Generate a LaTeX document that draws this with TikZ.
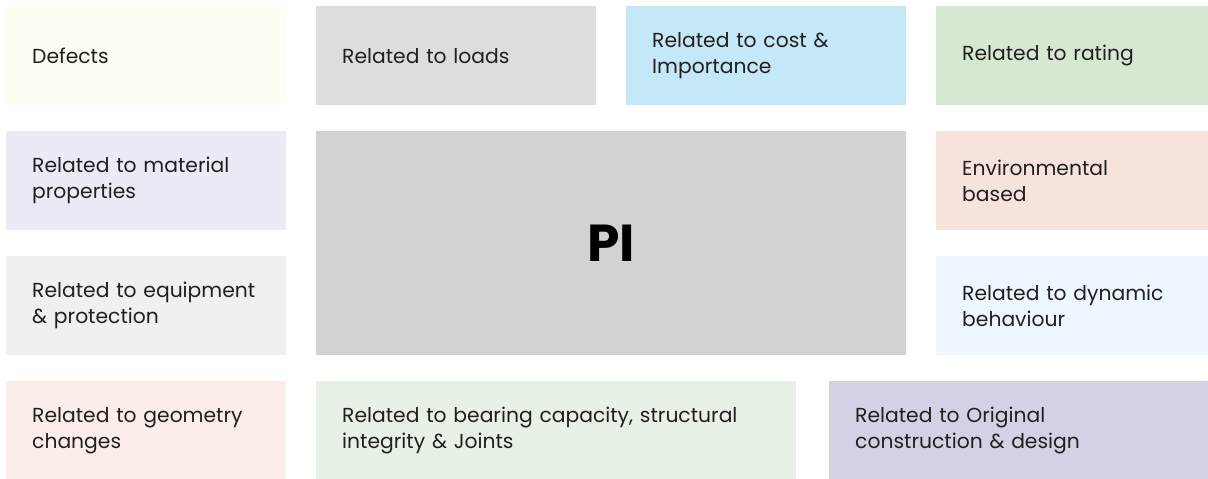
\documentclass[tikz,border=0pt]{standalone}
\usepackage{fontspec}
\setmainfont{Poppins}
\usepackage{tikz}

\definecolor{txt}{HTML}{231F20}
\definecolor{cDefects}{HTML}{FDFDF1}
\definecolor{cLoads}{HTML}{DCDDDE}
\definecolor{cCost}{HTML}{C5E8F8}
\definecolor{cRating}{HTML}{D7E8D2}
\definecolor{cMaterial}{HTML}{ECEBF5}
\definecolor{cPI}{HTML}{D1D2D4}
\definecolor{cEnv}{HTML}{F6E4DC}
\definecolor{cEquip}{HTML}{F0F0F0}
\definecolor{cDynamic}{HTML}{EEF7FD}
\definecolor{cGeometry}{HTML}{FBEEEA}
\definecolor{cBearing}{HTML}{E7F1E6}
\definecolor{cOriginal}{HTML}{D3D2E5}

\begin{document}
\begin{tikzpicture}[x=1pt,y=-1pt,cell/.style={anchor=north west,minimum height=99pt,inner xsep=26pt,inner ysep=0pt,align=left,text=txt,font=\fontsize{20.3}{26}\selectfont}]
	\useasboundingbox (0,0) rectangle (1208,479);
	% top row
	\node[cell,fill=cDefects,text width=228pt] (defects) at (6,6) {Defects};
	\node[cell,fill=cLoads,text width=228pt] (loads) at (316,6) {Related to loads};
	\node[cell,fill=cCost,text width=228pt] (cost) at (626,6) {Related to cost \&\\Importance};
	\node[cell,fill=cRating,text width=220pt] (rating) at (936,6) {Related to rating};
	% sides
	\node[cell,fill=cMaterial,text width=228pt] (material) at (6,131) {Related to material\\properties};
	\node[cell,fill=cEquip,text width=228pt] (equipment) at (6,256) {Related to equipment\\\& protection};
	\node[cell,fill=cEnv,text width=220pt] (environment) at (936,131) {Environmental\\based};
	\node[cell,fill=cDynamic,text width=220pt] (dynamic) at (936,256) {Related to dynamic\\behaviour};
	% centre
	\node[anchor=north west,fill=cPI,minimum width=590pt,minimum height=224pt,inner sep=0pt,font=\fontsize{52}{60}\selectfont\bfseries] (pi) at (316,131) {PI};
	% bottom row
	\node[cell,fill=cGeometry,text width=228pt] (geometry) at (6,381) {Related to geometry\\changes};
	\node[cell,fill=cBearing,text width=428pt] (bearing) at (316,381) {Related to bearing capacity, structural\\integrity \& Joints};
	\node[cell,fill=cOriginal,text width=327pt] (original) at (829,381) {Related to Original\\construction \& design};
\end{tikzpicture}
\end{document}
